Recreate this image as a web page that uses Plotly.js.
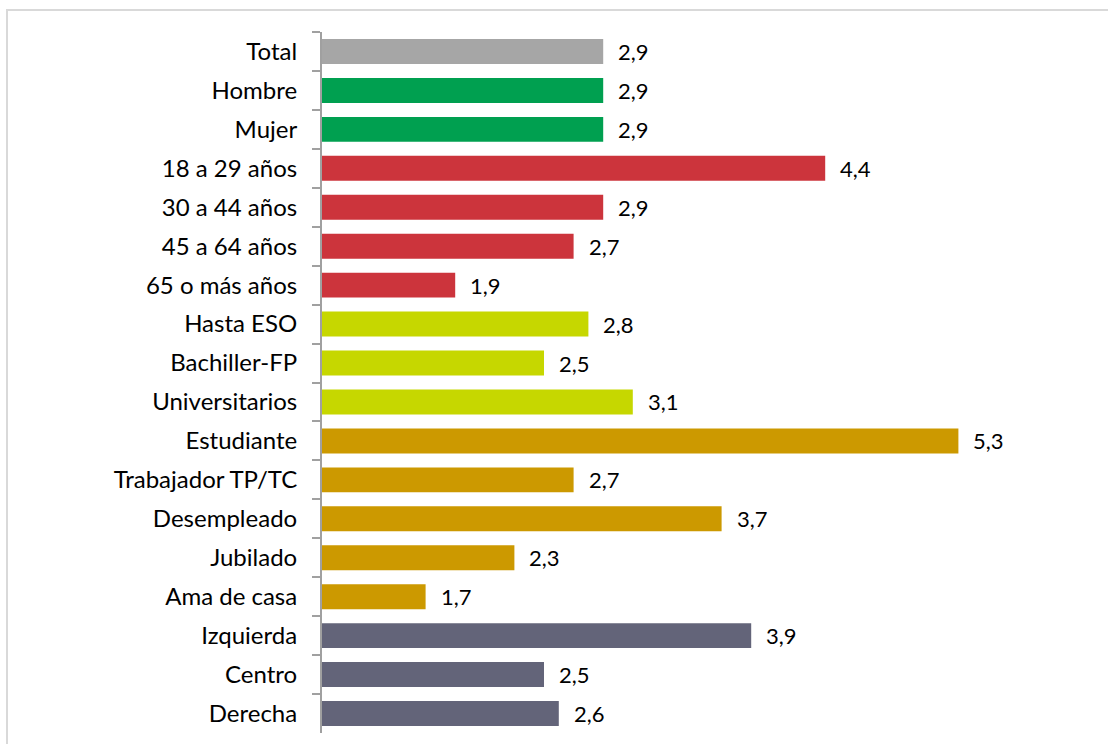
<!DOCTYPE html>
<html>
<head>
<meta charset="utf-8">
<script src="https://cdn.plot.ly/plotly-3.0.1.min.js"></script>
<style>
  html, body { margin: 0; padding: 0; background: #ffffff; }
  #wrap { position: relative; width: 1108px; height: 744px; overflow: hidden; }
  #chart { position: absolute; left: 0; top: 0; width: 1108px; height: 744px; }
  #frame { position: absolute; left: 6px; top: 9px; width: 1200px; height: 800px;
           border: 2px solid #D9D9D9; pointer-events: none; box-sizing: border-box; }
</style>
</head>
<body>
<div id="wrap">
  <div id="chart"></div>
  <div id="frame"></div>
</div>
<script>
const categories = ['Total', 'Hombre', 'Mujer', '18 a 29 años', '30 a 44 años', '45 a 64 años',
  '65 o más años', 'Hasta ESO', 'Bachiller-FP', 'Universitarios', 'Estudiante',
  'Trabajador TP/TC', 'Desempleado', 'Jubilado', 'Ama de casa', 'Izquierda', 'Centro', 'Derecha'];
const values = [2.9, 2.9, 2.9, 4.4, 2.9, 2.7, 1.9, 2.8, 2.5, 3.1, 5.3, 2.7, 3.7, 2.3, 1.7, 3.9, 2.5, 2.6];
const groups = ['total', 'sexo', 'sexo', 'edad', 'edad', 'edad', 'edad', 'estudios', 'estudios', 'estudios',
  'situacion', 'situacion', 'situacion', 'situacion', 'situacion', 'ideologia', 'ideologia', 'ideologia'];
const groupColors = {
  total: '#A6A6A6', sexo: '#00A050', edad: '#CC343C', estudios: '#C6D700',
  situacion: '#CC9900', ideologia: '#636479'
};
const axisMin = 1;

const fmt = v => v.toFixed(1).replace('.', ',');

const trace = {
  type: 'bar',
  orientation: 'h',
  y: categories,
  x: values.map(v => v - axisMin),
  base: axisMin,
  marker: { color: groups.map(g => groupColors[g]) },
  hoverinfo: 'skip'
};

const annotations = categories.map((c, i) => ({
  x: values[i], y: c, xref: 'x', yref: 'y',
  text: fmt(values[i]), showarrow: false, xanchor: 'left', xshift: 13,
  font: { family: 'Lato, Carlito, sans-serif', size: 22, color: '#000000' }
}));

const layout = {
  width: 1108, height: 744,
  margin: { l: 322, r: 46, t: 32, b: 11, pad: 0 },
  paper_bgcolor: 'rgba(0,0,0,0)', plot_bgcolor: 'rgba(0,0,0,0)',
  showlegend: false,
  bargap: 0.36,
  xaxis: { range: [axisMin, 6], visible: false, showgrid: false, zeroline: false, fixedrange: true },
  yaxis: {
    type: 'category', autorange: 'reversed',
    showline: true, linecolor: '#A0A0A0', linewidth: 2,
    ticks: 'outside', tickson: 'boundaries', ticklen: 8, tickcolor: '#A0A0A0', tickwidth: 2,
    ticklabelstandoff: 18,
    tickfont: { family: 'Lato, Carlito, sans-serif', size: 24, color: '#000000' },
    showgrid: false, zeroline: false, fixedrange: true
  },
  annotations: annotations,
  font: { family: 'Lato, sans-serif' }
};

Plotly.newPlot('chart', [trace], layout, { staticPlot: true, displayModeBar: false });
</script>
</body>
</html>
